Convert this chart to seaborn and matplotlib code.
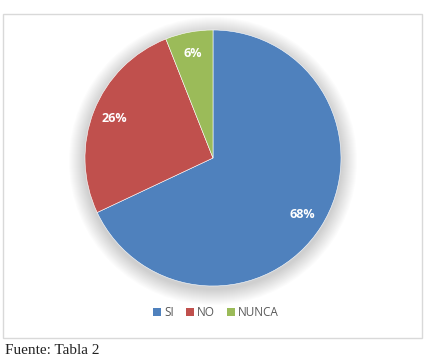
import numpy as np
import matplotlib
matplotlib.use("Agg")
import matplotlib.pyplot as plt
import seaborn as sns
from matplotlib.patches import Rectangle, Circle, Patch

# data
categories = ["SI", "NO", "NUNCA"]
values = [68, 26, 6]
colors = ["#4F81BD", "#C0504D", "#9BBB59"]

sns.set_style("white")
plt.rcParams["font.family"] = ["Open Sans", "DejaVu Sans"]

fig = plt.figure(figsize=(4.30, 3.56), dpi=100)
ax = fig.add_axes([0, 0, 1, 1])

# chart frame
ax.add_patch(Rectangle((3, 18), 419, 324, facecolor="white",
                       edgecolor="#D9D9D9", lw=1.0, zorder=0))

cx, cy, r = 213, 198, 128

# soft shadow behind the pie
for k in range(16):
    ax.add_patch(Circle((cx, cy - 3), r + 16 - k, facecolor="#000000",
                        edgecolor="none", alpha=0.011, zorder=1))

wedges, texts, autotexts = ax.pie(
    values, colors=colors, startangle=90, counterclock=False,
    center=(cx, cy), radius=r, autopct="%1.0f%%", pctdistance=0.83,
    wedgeprops={"linewidth": 0.4, "edgecolor": "white"},
    textprops={"color": "white", "fontsize": 9, "fontweight": "bold"},
    frame=True)
for w in wedges:
    w.set_zorder(2)
for t in autotexts:
    t.set_zorder(3)
ax.set_xlim(0, 430)
ax.set_ylim(0, 356)
ax.set_aspect("equal")
ax.axis("off")

handles = [Patch(facecolor=c, edgecolor="none") for c in colors]
ax.legend(handles, categories, loc="center", bbox_to_anchor=(216, 43),
          bbox_transform=ax.transData, ncol=3, frameon=False, fontsize=8.5,
          handlelength=0.65, handleheight=0.65, handletextpad=0.3,
          columnspacing=1.0, labelcolor="#595959")

# caption below the chart
ax.text(5, 2, "Fuente: Tabla 2", fontsize=11, family="Liberation Serif",
        va="baseline", ha="left", color="#222222")

fig.savefig("out.png", dpi=100)
